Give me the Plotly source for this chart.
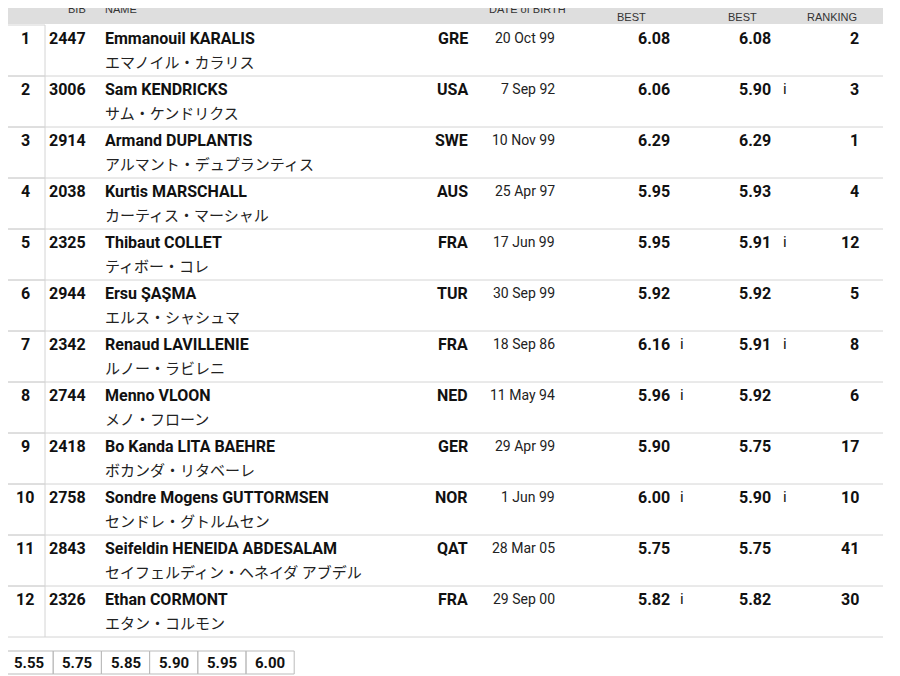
import plotly.graph_objects as go

order = list(range(1, 13))
bib = ["2447", "3006", "2914", "2038", "2325", "2944", "2342", "2744", "2418", "2758", "2843", "2326"]
names = ["Emmanouil KARALIS", "Sam KENDRICKS", "Armand DUPLANTIS", "Kurtis MARSCHALL", "Thibaut COLLET",
         "Ersu ŞAŞMA", "Renaud LAVILLENIE", "Menno VLOON", "Bo Kanda LITA BAEHRE",
         "Sondre Mogens GUTTORMSEN", "Seifeldin HENEIDA ABDESALAM", "Ethan CORMONT"]
names_jp = ["エマノイル・カラリス", "サム・ケンドリクス", "アルマント・デュプランティス", "カーティス・マーシャル",
            "ティボー・コレ", "エルス・シャシュマ", "ルノー・ラビレニ", "メノ・フローン", "ボカンダ・リタベーレ",
            "センドレ・グトルムセン", "セイフェルディン・ヘネイダ アブデル", "エタン・コルモン"]
country = ["GRE", "USA", "SWE", "AUS", "FRA", "TUR", "FRA", "NED", "GER", "NOR", "QAT", "FRA"]
dob = ["20 Oct 99", "7 Sep 92", "10 Nov 99", "25 Apr 97", "17 Jun 99", "30 Sep 99", "18 Sep 86",
       "11 May 94", "29 Apr 99", "1 Jun 99", "28 Mar 05", "29 Sep 00"]
pb = ["6.08", "6.06", "6.29", "5.95", "5.95", "5.92", "6.16", "5.96", "5.90", "6.00", "5.75", "5.82"]
pb_indoor = [False, False, False, False, False, False, True, True, False, True, False, True]
sb = ["6.08", "5.90", "6.29", "5.93", "5.91", "5.92", "5.91", "5.92", "5.75", "5.90", "5.75", "5.82"]
sb_indoor = [False, True, False, False, True, False, True, False, False, True, False, False]
ranking = ["2", "3", "1", "4", "12", "5", "8", "6", "17", "10", "41", "30"]
heights = ["5.55", "5.75", "5.85", "5.90", "5.95", "6.00"]

W, H = 900, 676
OFF = 8  # page body margin
TOP, ROW = 25, 51
BOLD = "Roboto"
JP = "Noto Sans CJK JP"
HDR = "Liberation Sans"
LINE = "#d4d4d4"

fig = go.Figure()
shapes = []
ann = []

def text(x, y, s, anchor="left", size=16, family=BOLD, color="#111", bold=False):
    if bold:
        s = "<b>" + s + "</b>"
    ann.append(dict(x=x, y=y, text=s, xanchor=anchor, yanchor="middle", showarrow=False,
                    font=dict(size=size, family=family, color=color)))

# header
shapes.append(dict(type="rect", x0=0, x1=883, y0=0, y1=24, fillcolor="#dedede", line_width=0, layer="below"))
for x, y, s, a in [(1, 9, "ORDER", "left"), (88, 9, "BIB", "right"), (103, 9, "NAME", "left"),
                   (527, 9, "DATE of BIRTH", "center"), (631, 5, "PERSONAL", "center"), (631, 17, "BEST", "center"),
                   (742, 5, "SEASON", "center"), (742, 17, "BEST", "center"),
                   (832, 5, "WORLD", "center"), (832, 17, "RANKING", "center")]:
    text(x, y, s, a, size=11, family=HDR, color="#333")

for i in range(len(order)):
    t = TOP + ROW * i
    shapes.append(dict(type="rect", x0=5, x1=45, y0=t, y1=t + ROW, line=dict(color=LINE, width=1)))
    shapes.append(dict(type="line", x0=45, x1=883, y0=t + ROW, y1=t + ROW, line=dict(color=LINE, width=1)))
    y1, y2 = t + 13, t + 36
    text(25, y1, str(order[i]), "center", bold=True)
    text(88, y1, bib[i], "right", bold=True)
    text(103, y1, names[i], "left", bold=True)
    text(103, y2, names_jp[i], "left", size=15, family=JP, color="#222")
    text(470, y1, country[i], "right", bold=True)
    text(557, y1, dob[i], "right", size=14, color="#222")
    text(672, y1, pb[i], "right", bold=True)
    if pb_indoor[i]:
        text(678, y1, "i", "left", size=15)
    text(773, y1, sb[i], "right", bold=True)
    if sb_indoor[i]:
        text(781, y1, "i", "left", size=15)
    text(861, y1, ranking[i], "right", bold=True)

# bar heights
bx, bw = 5, 48.2
for j, h in enumerate(heights):
    x0 = bx + bw * j
    shapes.append(dict(type="rect", x0=x0, x1=x0 + bw, y0=651, y1=674, line=dict(color="#bbb", width=1)))
    text(x0 + bw / 2, 662.5, h, "center", size=15, bold=True)

fig.update_layout(width=W, height=H, margin=dict(l=0, r=0, t=0, b=0), plot_bgcolor="white", paper_bgcolor="white",
                  xaxis=dict(range=[OFF, W + OFF], visible=False, fixedrange=True),
                  yaxis=dict(range=[H + OFF, OFF], visible=False, fixedrange=True),
                  shapes=shapes, annotations=ann, showlegend=False)
fig.write_html("out.html")
